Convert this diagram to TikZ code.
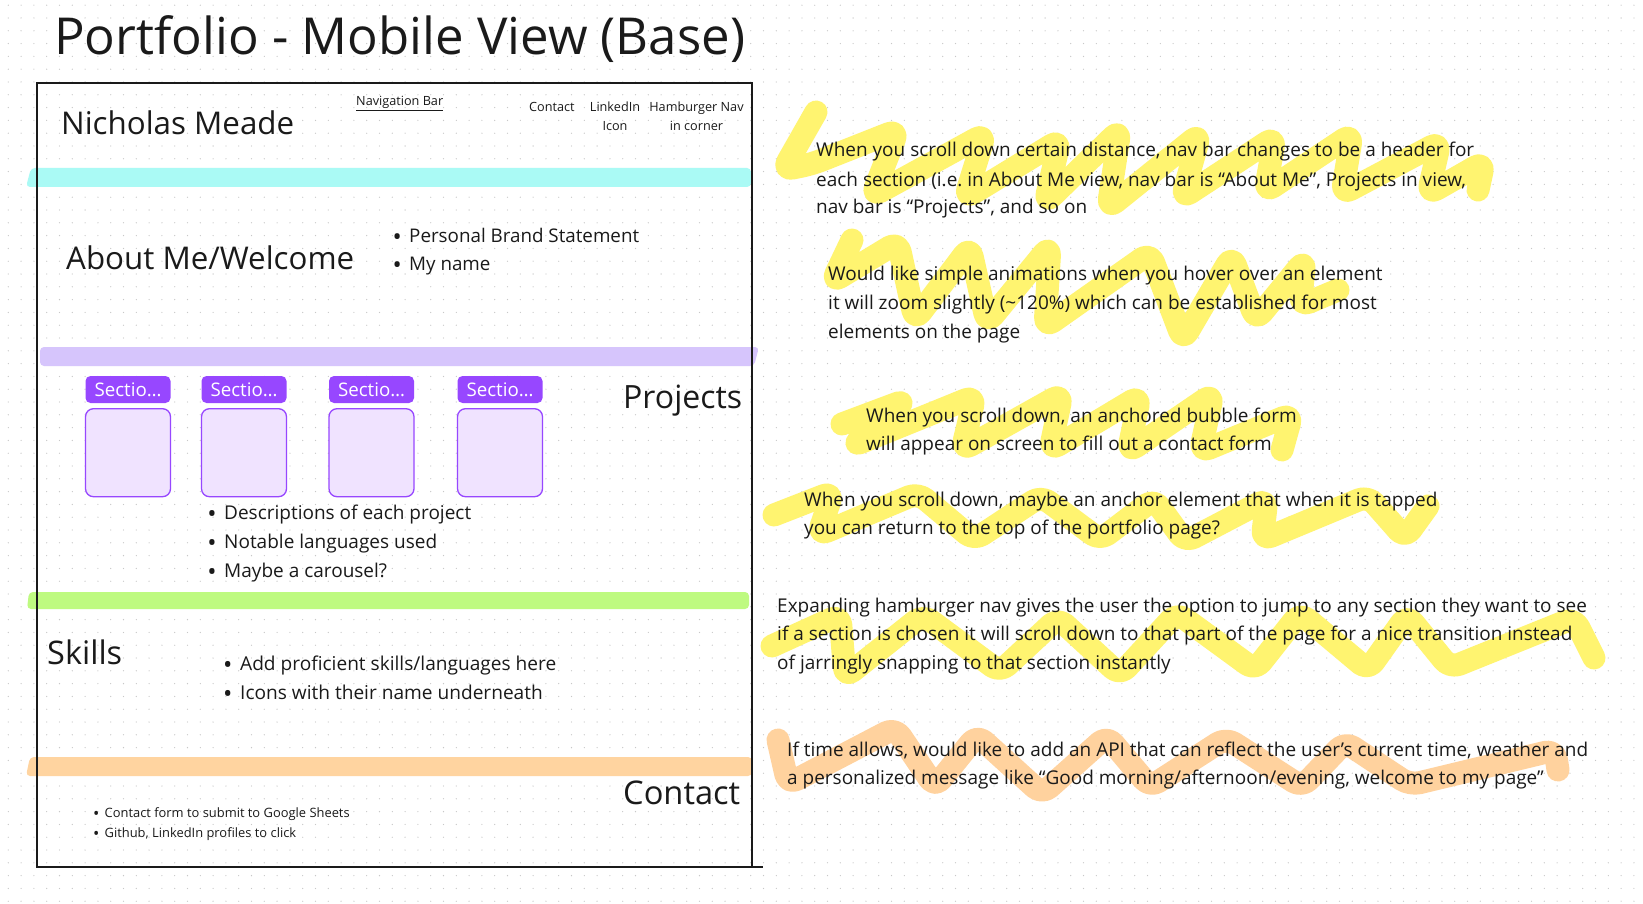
\documentclass[tikz,border=0pt]{standalone}
\usepackage{fontspec}
\setmainfont{Open Sans}
\definecolor{ink}{HTML}{1A1A1A}
\definecolor{cyanbar}{RGB}{170,250,245}
\definecolor{lavbar}{RGB}{214,197,252}
\definecolor{limebar}{RGB}{190,250,128}
\definecolor{peachbar}{RGB}{255,212,160}
\definecolor{hlyellow}{RGB}{255,244,112}
\definecolor{hlorange}{RGB}{255,210,158}
\definecolor{fpurple}{HTML}{9747FF}
\definecolor{fcard}{RGB}{240,227,255}
\definecolor{dotc}{RGB}{200,200,200}
\newdimen\fitdim
\newcommand\fitdef[3]{\setbox0=\hbox{\fontsize{10pt}{12pt}\selectfont #3}\fitdim=\wd0\relax\pgfmathsetmacro#1{10*#2/\the\fitdim}}
\newcommand\bul{\llap{\raisebox{-0.17em}{\scalebox{1.3}{\textbullet}}\hspace{0.4em}}}
\tikzset{
  txt/.style={inner sep=0pt, text=ink, anchor=base west},
  fs/.style={font=\fontsize{#1}{#1}\selectfont},
  dotrow/.style={draw=dotc, line width=1.3pt, line cap=round, dash pattern=on 0pt off 12.8pt},
  scrib/.style={draw=hlyellow, line width=23pt, line cap=round, line join=round, rounded corners=10pt},
  scribo/.style={draw=hlorange, line width=23pt, line cap=round, line join=round, rounded corners=10pt},
  tabbox/.style={fill=fpurple, rounded corners=5pt, minimum width=85pt, minimum height=27pt, inner sep=0pt, text=white},
  cardbox/.style={fill=fcard, draw=fpurple, line width=1.3pt, rounded corners=8pt, minimum width=85pt, minimum height=88pt, inner sep=0pt},
}
\begin{document}
\fitdef\fsTitle{691}{Portfolio - Mobile View (Base)}%
\fitdef\fsName{233}{Nicholas Meade}%
\fitdef\fsNav{87}{Navigation Bar}%
\fitdef\fsAbout{288}{About Me/Welcome}%
\fitdef\fsAb{230}{Personal Brand Statement}%
\fitdef\fsTab{67}{Sectio…}%
\fitdef\fsProj{119}{Projects}%
\fitdef\fsPr{247}{Descriptions of each project}%
\fitdef\fsSkills{75}{Skills}%
\fitdef\fsSk{316}{Add proficient skills/languages here}%
\fitdef\fsCont{117}{Contact}%
\fitdef\fsCt{245}{Contact form to submit to Google Sheets}%
\fitdef\fsNote{658}{When you scroll down certain distance, nav bar changes to be a header for}%
\begin{tikzpicture}[x=1pt,y=-1pt]
\useasboundingbox (0,0) rectangle (1643,904);
\fill[white] (0,0) rectangle (1643,904);
\foreach \k in {0,...,70} \draw[dotrow] (8.3,{5.2+12.8*\k}) -- (1643,{5.2+12.8*\k});

% colored section bars
\fill[cyanbar, rounded corners=4pt] (31,168) -- (751,168) -- (751,187) -- (26,187) -- cycle;
\fill[lavbar, rounded corners=4pt] (40,347) -- (759,347) -- (754,366) -- (40,366) -- cycle;
\fill[limebar, rounded corners=4pt] (29,592) -- (749,592) -- (749,609) -- (27,609) -- cycle;
\fill[peachbar, rounded corners=4pt] (30,757) -- (752,757) -- (752,776) -- (26,776) -- cycle;

% highlight scribbles
\draw[scrib] (816,112) -- (783,170) -- (812,164) -- (898,130) -- (872,196) -- (985,134) -- (965,198) -- (1060,140) -- (1045,203) -- (1120,130) -- (1108,208) -- (1200,134) -- (1182,198) -- (1275,137) -- (1265,192) -- (1352,134) -- (1342,194) -- (1440,142) -- (1428,194) -- (1484,162) -- (1478,190);
\draw[scrib] (852,240) -- (832,282) -- (898,242) -- (915,320) -- (970,247) -- (987,323) -- (1050,246) -- (1045,327) -- (1150,253) -- (1183,340) -- (1232,256) -- (1256,320) -- (1305,260) -- (1300,306) -- (1338,290);
\draw[scrib] (842,424) -- (906,400) -- (852,446) -- (975,396) -- (962,450) -- (1062,394) -- (1050,450) -- (1140,396) -- (1128,452) -- (1213,394) -- (1200,452) -- (1292,414) -- (1282,450);
\draw[scrib] (774,515) -- (833,492) -- (818,535) -- (918,493) -- (974,540) -- (1041,496) -- (1100,540) -- (1154,499) -- (1185,542) -- (1267,499) -- (1262,540) -- (1368,496) -- (1405,538) -- (1428,506);
\draw[scrib] (772,646) -- (840,615) -- (845,677) -- (923,615) -- (1000,672) -- (1058,618) -- (1120,675) -- (1177,613) -- (1255,670) -- (1300,613) -- (1368,670) -- (1407,615) -- (1450,668) -- (1574,618) -- (1594,658);
\draw[scribo] (778,740) -- (788,784) -- (895,728) -- (935,787) -- (977,735) -- (1042,794) -- (1107,736) -- (1150,787) -- (1226,738) -- (1302,787) -- (1345,742) -- (1410,785) -- (1555,750) -- (1558,770);

% frame
\node[draw=ink, line width=2.2pt, minimum width=715pt, minimum height=784pt, inner sep=0pt, outer sep=0pt, anchor=north west] (frame) at (37,83) {};
\coordinate (bext) at (763,867);
\draw[ink, line width=2.2pt] (frame.south east) -- (bext);

% title
\node[txt, fs=\fsTitle] (title) at (54,55) {Portfolio - Mobile View (Base)};

% header
\node[txt, fs=\fsName] (name) at (61,135) {Nicholas Meade};
\node[txt, fs=\fsNav] (navbar) at (356,106) {\underline{Navigation Bar}};
\node[txt, fs=\fsNav] (navcontact) at (529,112) {Contact};
\node[txt, fs=\fsNav, anchor=base] (navlinked) at (615,112) {LinkedIn};
\node[txt, fs=\fsNav, anchor=base] (navicon) at (615,131) {Icon};
\node[txt, fs=\fsNav, anchor=base] (navham) at (696.5,112) {Hamburger Nav};
\node[txt, fs=\fsNav, anchor=base] (navcorner) at (696.5,131) {in corner};

% about
\node[txt, fs=\fsAbout] (about) at (66,269) {About Me/Welcome};
\node[txt, fs=\fsAb] (ab1) at (409,242) {\bul Personal Brand Statement};
\node[txt, fs=\fsAb] (ab2) at (409,270) {\bul My name};

% projects
\node[tabbox, fs=\fsTab] (tab1) at (128,389.5) {Sectio…};
\node[tabbox, fs=\fsTab] (tab2) at (244,389.5) {Sectio…};
\node[tabbox, fs=\fsTab] (tab3) at (371.5,389.5) {Sectio…};
\node[tabbox, fs=\fsTab] (tab4) at (500,389.5) {Sectio…};
\node[cardbox] (card1) at (128,452.7) {};
\node[cardbox] (card2) at (244,452.7) {};
\node[cardbox] (card3) at (371.5,452.7) {};
\node[cardbox] (card4) at (500,452.7) {};
\node[txt, fs=\fsProj] (projects) at (623,408) {Projects};
\node[txt, fs=\fsPr] (pr1) at (224,519) {\bul Descriptions of each project};
\node[txt, fs=\fsPr] (pr2) at (224,548) {\bul Notable languages used};
\node[txt, fs=\fsPr] (pr3) at (224,577) {\bul Maybe a carousel?};

% skills
\node[txt, fs=\fsSkills] (skills) at (47,664) {Skills};
\node[txt, fs=\fsSk] (sk1) at (240,670) {\bul Add proficient skills/languages here};
\node[txt, fs=\fsSk] (sk2) at (240,699) {\bul Icons with their name underneath};

% contact
\node[txt, fs=\fsCont] (contact) at (623,804) {Contact};
\node[txt, fs=\fsCt] (ct1) at (104.5,817) {\bul Contact form to submit to Google Sheets};
\node[txt, fs=\fsCt] (ct2) at (104.5,837) {\bul Github, LinkedIn profiles to click};

% notes
\node[txt, fs=\fsNote] (n1a) at (816,157) {When you scroll down certain distance, nav bar changes to be a header for};
\node[txt, fs=\fsNote] (n1b) at (816,186) {each section (i.e.\ in About Me view, nav bar is “About Me”, Projects in view,};
\node[txt, fs=\fsNote] (n1c) at (816,214) {nav bar is “Projects”, and so on};
\node[txt, fs=\fsNote] (n2a) at (828,280) {Would like simple animations when you hover over an element};
\node[txt, fs=\fsNote] (n2b) at (828,309) {it will zoom slightly (\textasciitilde120\%) which can be established for most};
\node[txt, fs=\fsNote] (n2c) at (828,338) {elements on the page};
\node[txt, fs=\fsNote] (n3a) at (866,422) {When you scroll down, an anchored bubble form};
\node[txt, fs=\fsNote] (n3b) at (866,450) {will appear on screen to fill out a contact form};
\node[txt, fs=\fsNote] (n4a) at (804,506) {When you scroll down, maybe an anchor element that when it is tapped};
\node[txt, fs=\fsNote] (n4b) at (804,534) {you can return to the top of the portfolio page?};
\node[txt, fs=\fsNote] (n5a) at (777,612) {Expanding hamburger nav gives the user the option to jump to any section they want to see};
\node[txt, fs=\fsNote] (n5b) at (777,640) {if a section is chosen it will scroll down to that part of the page for a nice transition instead};
\node[txt, fs=\fsNote] (n5c) at (777,669) {of jarringly snapping to that section instantly};
\node[txt, fs=\fsNote] (n6a) at (787,756) {If time allows, would like to add an API that can reflect the user’s current time, weather and};
\node[txt, fs=\fsNote] (n6b) at (787,784) {a personalized message like “Good morning/afternoon/evening, welcome to my page”};
\end{tikzpicture}
\end{document}
